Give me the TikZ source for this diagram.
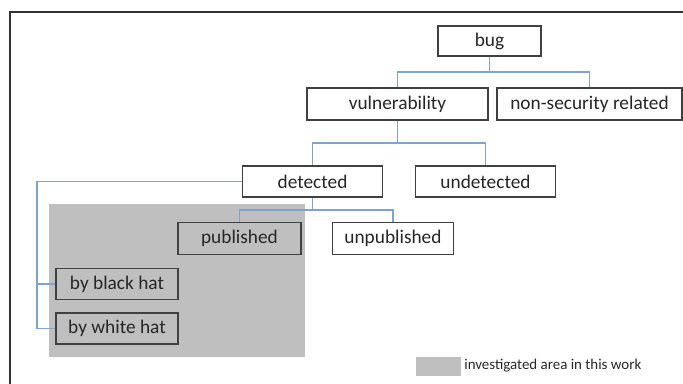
\documentclass[tikz,border=0pt]{standalone}
\usepackage{fontspec}
\setmainfont{Carlito}
\definecolor{connblue}{RGB}{125,162,212}
\definecolor{areagray}{RGB}{191,191,191}
\definecolor{boxline}{RGB}{64,64,64}
\definecolor{textgray}{RGB}{38,38,38}
\tikzset{
    catbox/.style={draw=boxline, line width=0.6pt, inner sep=0pt, text=textgray,
        font=\fontsize{11}{13}\selectfont},
    conn/.style={draw=connblue, line width=0.6pt},
}

\begin{document}
\begin{tikzpicture}[x=0.02cm, y=-0.02cm]
    \useasboundingbox (0,0) rectangle (683,384);

    % Frame lines at top and left
    \draw[boxline!80!black, line width=1.2pt] (10,384) -- (10,12) -- (683,12);

    % Investigated area
    \fill[areagray] (49,204) rectangle (305,357);

    % Category boxes
    \node[catbox, fill=white, minimum width=103*0.02cm, minimum height=30*0.02cm] (bug) at (489.5,41) {bug};
    \node[catbox, fill=white, minimum width=181*0.02cm, minimum height=32*0.02cm] (vuln) at (397.5,104) {vulnerability};
    \node[catbox, fill=white, minimum width=185*0.02cm, minimum height=32*0.02cm] (nonsec) at (589.5,104) {non-security related};
    \node[catbox, fill=white, minimum width=140*0.02cm, minimum height=31*0.02cm] (det) at (312.5,181.5) {detected};
    \node[catbox, fill=white, minimum width=140*0.02cm, minimum height=31*0.02cm] (undet) at (485.5,181.5) {undetected};
    \node[catbox, minimum width=123*0.02cm, minimum height=32*0.02cm] (pub) at (239.5,238.5) {published};
    \node[catbox, fill=white, minimum width=121*0.02cm, minimum height=32*0.02cm] (unpub) at (393,238.5) {unpublished};
    \node[catbox, minimum width=122*0.02cm, minimum height=31*0.02cm] (black) at (117,284) {by black hat};
    \node[catbox, minimum width=122*0.02cm, minimum height=31*0.02cm] (white) at (117,328.5) {by white hat};

    % Tree connectors
    \coordinate (j1) at (489.5,72);
    \coordinate (j2) at (397.5,143);
    \coordinate (j3) at (312.5,210);
    \coordinate (j4) at (37,181.5);
    \draw[conn] (bug.south) -- (j1) -| (vuln.north);
    \draw[conn] (j1) -| (nonsec.north);
    \draw[conn] (vuln.south) -- (j2) -| (det.north);
    \draw[conn] (j2) -| (undet.north);
    \draw[conn] (det.south) -- (j3) -| (pub.north);
    \draw[conn] (j3) -| (unpub.north);
    \draw[conn] (det.west) -- (j4) |- (white.west);
    \draw[conn] (j4) |- (black.west);

    % Legend
    \fill[areagray] (416,357) rectangle (461,376);
    \node[anchor=west, inner sep=0pt, text=textgray, font=\fontsize{8.5}{10}\selectfont] (legend) at (464,366) {investigated area in this work};
\end{tikzpicture}
\end{document}
